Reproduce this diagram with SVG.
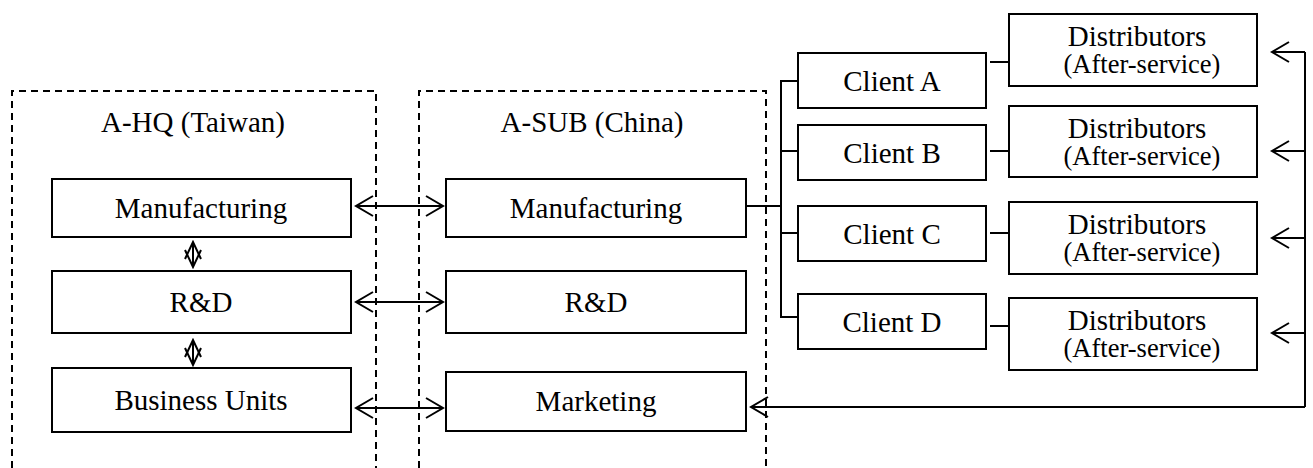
<svg xmlns="http://www.w3.org/2000/svg" width="1313" height="468" viewBox="0 0 1313 468">
  <style>
    .box { fill: #fff; stroke: #000; stroke-width: 2; }
    .zone { fill: none; stroke: #000; stroke-width: 2; stroke-dasharray: 7 5; }
    .lbl { font-size: 29px; fill: #000; text-anchor: middle; }
    .sub { font-size: 26.5px; }
    .wire { fill: none; stroke: #000; stroke-width: 2; }
  </style>
  <defs>
    <marker id="open" markerUnits="userSpaceOnUse" viewBox="-19 -12 21 24" refX="0" refY="0" markerWidth="21" markerHeight="24" orient="auto-start-reverse">
      <path d="M-17,-10 L0,0 L-17,10" fill="none" stroke="#000" stroke-width="2"/>
    </marker>
    <marker id="small" markerUnits="userSpaceOnUse" viewBox="-19 -12 21 24" refX="0" refY="0" markerWidth="21" markerHeight="24" orient="auto-start-reverse">
      <path d="M-17,-8 L0,0 L-17,8" fill="none" stroke="#000" stroke-width="2"/>
    </marker>
  </defs>

  <g font-family="'Liberation Serif', 'Times New Roman', Times, serif">
  <!-- organisation zones -->
  <g id="zone-hq">
    <path class="zone" d="M12,468 V91 H376 V468"/>
    <text class="lbl" x="193" y="132">A-HQ (Taiwan)</text>
  </g>
  <g id="zone-sub">
    <path class="zone" d="M419,468 V91 H766 V468"/>
    <text class="lbl" x="592" y="132">A-SUB (China)</text>
  </g>

  <!-- connectors -->
  <g id="connectors">
    <!-- HQ <-> SUB -->
    <line class="wire" x1="356" y1="206" x2="443" y2="206" marker-start="url(#open)" marker-end="url(#open)"/>
    <line class="wire" x1="356" y1="302" x2="443" y2="302" marker-start="url(#open)" marker-end="url(#open)"/>
    <line class="wire" x1="356" y1="408" x2="443" y2="408" marker-start="url(#open)" marker-end="url(#open)"/>
    <!-- inside HQ -->
    <line class="wire" x1="193" y1="242" x2="193" y2="267" marker-start="url(#small)" marker-end="url(#small)"/>
    <line class="wire" x1="193" y1="340" x2="193" y2="365" marker-start="url(#small)" marker-end="url(#small)"/>
    <!-- manufacturing to clients -->
    <path class="wire" d="M746,206 H781"/>
    <path class="wire" d="M798,81 H781 V317 H798"/>
    <path class="wire" d="M781,151 H798"/>
    <path class="wire" d="M781,233 H798"/>
    <!-- clients to distributors -->
    <path class="wire" d="M990,62 H1009"/>
    <path class="wire" d="M990,151 H1009"/>
    <path class="wire" d="M990,233 H1009"/>
    <path class="wire" d="M990,326 H1009"/>
    <!-- feedback loop -->
    <path class="wire" d="M1305,52 V407"/>
    <line class="wire" x1="1305" y1="52" x2="1272" y2="52" marker-end="url(#open)"/>
    <line class="wire" x1="1305" y1="151" x2="1272" y2="151" marker-end="url(#open)"/>
    <line class="wire" x1="1305" y1="238" x2="1272" y2="238" marker-end="url(#open)"/>
    <line class="wire" x1="1305" y1="333" x2="1272" y2="333" marker-end="url(#open)"/>
    <line class="wire" x1="1305" y1="407" x2="751" y2="407" marker-end="url(#open)"/>
  </g>

  <!-- HQ units -->
  <g id="hq-manufacturing">
    <rect class="box" x="52" y="179" width="299" height="58"/>
    <text class="lbl" x="201" y="218">Manufacturing</text>
  </g>
  <g id="hq-rnd">
    <rect class="box" x="52" y="271" width="299" height="62"/>
    <text class="lbl" x="201" y="312">R&amp;D</text>
  </g>
  <g id="hq-business">
    <rect class="box" x="52" y="368" width="299" height="64"/>
    <text class="lbl" x="201" y="410">Business Units</text>
  </g>

  <!-- SUB units -->
  <g id="sub-manufacturing">
    <rect class="box" x="446" y="179" width="300" height="58"/>
    <text class="lbl" x="596" y="218">Manufacturing</text>
  </g>
  <g id="sub-rnd">
    <rect class="box" x="446" y="271" width="300" height="62"/>
    <text class="lbl" x="596" y="312">R&amp;D</text>
  </g>
  <g id="sub-marketing">
    <rect class="box" x="446" y="372" width="300" height="59"/>
    <text class="lbl" x="596" y="411">Marketing</text>
  </g>

  <!-- clients -->
  <g id="client-a">
    <rect class="box" x="798" y="53" width="188" height="55"/>
    <text class="lbl" x="892" y="91">Client A</text>
  </g>
  <g id="client-b">
    <rect class="box" x="798" y="125" width="188" height="55"/>
    <text class="lbl" x="892" y="163">Client B</text>
  </g>
  <g id="client-c">
    <rect class="box" x="798" y="206" width="188" height="55"/>
    <text class="lbl" x="892" y="244">Client C</text>
  </g>
  <g id="client-d">
    <rect class="box" x="798" y="294" width="188" height="55"/>
    <text class="lbl" x="892" y="332">Client D</text>
  </g>

  <!-- distributors -->
  <g id="dist-a">
    <rect class="box" x="1009" y="14" width="248" height="72"/>
    <text class="lbl" x="1137" y="46">Distributors</text>
    <text class="lbl sub" x="1142" y="73">(After-service)</text>
  </g>
  <g id="dist-b">
    <rect class="box" x="1009" y="106" width="248" height="71"/>
    <text class="lbl" x="1137" y="138">Distributors</text>
    <text class="lbl sub" x="1142" y="165">(After-service)</text>
  </g>
  <g id="dist-c">
    <rect class="box" x="1009" y="202" width="248" height="72"/>
    <text class="lbl" x="1137" y="234">Distributors</text>
    <text class="lbl sub" x="1142" y="261">(After-service)</text>
  </g>
  <g id="dist-d">
    <rect class="box" x="1009" y="298" width="248" height="72"/>
    <text class="lbl" x="1137" y="330">Distributors</text>
    <text class="lbl sub" x="1142" y="357">(After-service)</text>
  </g>
  </g>
</svg>
